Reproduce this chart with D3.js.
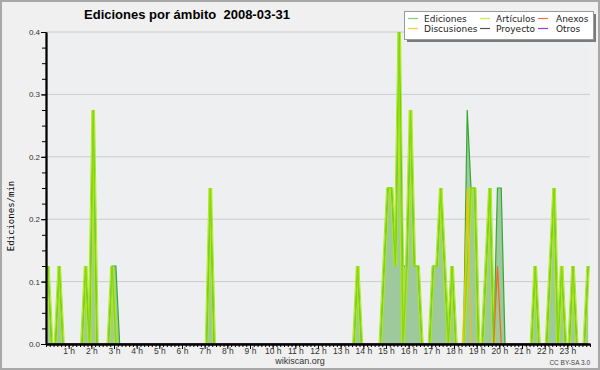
<!DOCTYPE html>
<html>
<head>
<meta charset="utf-8">
<script src="https://cdn.jsdelivr.net/npm/d3@7"></script>
<style>
  body { margin: 0; background: #f0f0f0; }
  svg { display: block; }
</style>
</head>
<body>
<svg id="chart" width="600" height="370"></svg>
<script>
// ediciones por minuto, un valor por tramo de 10 minutos (6 por hora, 12 por fila)
const ediciones = [
  0.1, 0, 0, 0.1, 0, 0, 0, 0, 0, 0, 0.1, 0,          // 0h-2h
  0.3, 0, 0, 0, 0, 0.1, 0.1, 0, 0, 0, 0, 0,          // 2h-4h
  0, 0, 0, 0, 0, 0, 0, 0, 0, 0, 0, 0,                // 4h-6h
  0, 0, 0, 0, 0, 0, 0, 0.2, 0, 0, 0, 0,              // 6h-8h
  0, 0, 0, 0, 0, 0, 0, 0, 0, 0, 0, 0,                // 8h-10h
  0, 0, 0, 0, 0, 0, 0, 0, 0, 0, 0, 0,                // 10h-12h
  0, 0, 0, 0, 0, 0, 0, 0, 0, 0, 0.1, 0,              // 12h-14h
  0, 0, 0, 0, 0, 0.1, 0.2, 0.2, 0.1, 0.4, 0.1, 0.1,  // 14h-16h
  0.3, 0.1, 0.1, 0, 0, 0, 0.1, 0.1, 0.2, 0.1, 0, 0.1,// 16h-18h
  0, 0, 0, 0.3, 0.2, 0.2, 0, 0, 0.1, 0.2, 0, 0.2,    // 18h-20h
  0.2, 0, 0, 0, 0, 0, 0, 0, 0, 0.1, 0, 0,            // 20h-22h
  0, 0.1, 0.2, 0, 0.1, 0, 0, 0.1, 0, 0, 0, 0.1       // 22h-24h
]

const articulos = [
  0.1, 0, 0, 0.1, 0, 0, 0, 0, 0, 0, 0.1, 0,
  0.3, 0, 0, 0, 0, 0.1, 0, 0, 0, 0, 0, 0,
  0, 0, 0, 0, 0, 0, 0, 0, 0, 0, 0, 0,
  0, 0, 0, 0, 0, 0, 0, 0.2, 0, 0, 0, 0,
  0, 0, 0, 0, 0, 0, 0, 0, 0, 0, 0, 0,
  0, 0, 0, 0, 0, 0, 0, 0, 0, 0, 0, 0,
  0, 0, 0, 0, 0, 0, 0, 0, 0, 0, 0.1, 0,
  0, 0, 0, 0, 0, 0.1, 0.2, 0.2, 0.1, 0.4, 0, 0.1,
  0.3, 0.1, 0.1, 0, 0, 0, 0.1, 0.1, 0.2, 0.1, 0, 0.1,
  0, 0, 0, 0.1, 0.2, 0.2, 0, 0, 0.1, 0.2, 0, 0,
  0, 0, 0, 0, 0, 0, 0, 0, 0, 0.1, 0, 0,
  0, 0.1, 0.2, 0, 0.1, 0, 0, 0.1, 0, 0, 0, 0.1
]

const discusiones = [
  0, 0, 0, 0, 0, 0, 0, 0, 0, 0, 0, 0,
  0, 0, 0, 0, 0, 0, 0, 0, 0, 0, 0, 0,
  0, 0, 0, 0, 0, 0, 0, 0, 0, 0, 0, 0,
  0, 0, 0, 0, 0, 0, 0, 0, 0, 0, 0, 0,
  0, 0, 0, 0, 0, 0, 0, 0, 0, 0, 0, 0,
  0, 0, 0, 0, 0, 0, 0, 0, 0, 0, 0, 0,
  0, 0, 0, 0, 0, 0, 0, 0, 0, 0, 0, 0,
  0, 0, 0, 0, 0, 0, 0, 0, 0, 0, 0, 0,
  0, 0, 0, 0, 0, 0, 0, 0, 0, 0, 0, 0,
  0, 0, 0, 0.2, 0, 0, 0, 0, 0, 0, 0, 0,
  0, 0, 0, 0, 0, 0, 0, 0, 0, 0, 0, 0,
  0, 0, 0, 0, 0, 0, 0, 0, 0, 0, 0, 0
]

const anexos = [
  0, 0, 0, 0, 0, 0, 0, 0, 0, 0, 0, 0,
  0, 0, 0, 0, 0, 0, 0, 0, 0, 0, 0, 0,
  0, 0, 0, 0, 0, 0, 0, 0, 0, 0, 0, 0,
  0, 0, 0, 0, 0, 0, 0, 0, 0, 0, 0, 0,
  0, 0, 0, 0, 0, 0, 0, 0, 0, 0, 0, 0,
  0, 0, 0, 0, 0, 0, 0, 0, 0, 0, 0, 0,
  0, 0, 0, 0, 0, 0, 0, 0, 0, 0, 0, 0,
  0, 0, 0, 0, 0, 0, 0, 0, 0, 0, 0, 0,
  0, 0, 0, 0, 0, 0, 0, 0, 0, 0, 0, 0,
  0, 0, 0, 0, 0, 0, 0, 0, 0, 0, 0, 0.1,
  0, 0, 0, 0, 0, 0, 0, 0, 0, 0, 0, 0,
  0, 0, 0, 0, 0, 0, 0, 0, 0, 0, 0, 0
]

// proyecto y otros: sin ediciones ese día
const proyecto = [
  0, 0, 0, 0, 0, 0, 0, 0, 0, 0, 0, 0,
  0, 0, 0, 0, 0, 0, 0, 0, 0, 0, 0, 0,
  0, 0, 0, 0, 0, 0, 0, 0, 0, 0, 0, 0,
  0, 0, 0, 0, 0, 0, 0, 0, 0, 0, 0, 0,
  0, 0, 0, 0, 0, 0, 0, 0, 0, 0, 0, 0,
  0, 0, 0, 0, 0, 0, 0, 0, 0, 0, 0, 0,
  0, 0, 0, 0, 0, 0, 0, 0, 0, 0, 0, 0,
  0, 0, 0, 0, 0, 0, 0, 0, 0, 0, 0, 0,
  0, 0, 0, 0, 0, 0, 0, 0, 0, 0, 0, 0,
  0, 0, 0, 0, 0, 0, 0, 0, 0, 0, 0, 0,
  0, 0, 0, 0, 0, 0, 0, 0, 0, 0, 0, 0,
  0, 0, 0, 0, 0, 0, 0, 0, 0, 0, 0, 0
]
const otros = proyecto.slice()

const horas = [1, 2, 3, 4, 5, 6, 7, 8, 9, 10, 11, 12, 13, 14, 15, 16, 17, 18, 19, 20, 21, 22, 23]
const yTicks = [0, 0.08, 0.16, 0.24, 0.32, 0.4]
const leyenda = ['Ediciones', 'Discusiones', 'Artículos', 'Proyecto', 'Anexos', 'Otros']
const leyendaColores = ['#80cc80', '#ffcc33', '#c4ee44', '#555555', '#ff7044', '#9933ff']


const svg = d3.select('#chart')
const sans = '"Liberation Sans", Arial, sans-serif'

const x = d3.scaleLinear().domain([0, 1440]).range([46, 590])
const y = d3.scaleLinear().domain([0, 0.4]).range([344, 32])

// cada valor se dibuja en el centro de su tramo de 10 minutos
const px = (d, i) => x(i * 10 + 5)
const line = d3.line().x(px).y(d => y(d))
const area = d3.area().x(px).y0(y(0)).y1(d => y(d))

// marco y fondo
svg.append('rect')
    .attr('x', 1).attr('y', 1).attr('width', 598).attr('height', 368)
    .attr('fill', '#f0f0f0').attr('stroke', '#a8a8a8').attr('stroke-width', 2)

svg.append('rect')
    .attr('x', x(0)).attr('y', y(0.4))
    .attr('width', x(1440) - x(0)).attr('height', y(0) - y(0.4))
    .attr('fill', '#eeeff1')

// lineas de cuadricula
svg.append('g').selectAll('line')
    .data(yTicks.filter(d => d > 0))
    .join('line')
    .attr('x1', x(0)).attr('x2', x(1440))
    .attr('y1', d => y(d)).attr('y2', d => y(d))
    .attr('stroke', '#cccccc')

// area total de ediciones
svg.append('path')
    .attr('d', area(ediciones))
    .attr('fill', '#9dc99d')

svg.append('path')
    .attr('d', line(ediciones))
    .attr('fill', 'none')
    .attr('stroke', '#36a836')
    .attr('stroke-width', 1.2)

// articulos: trazo ancho en horizontal, como en wikiscan
const bandas = [
    { dx: -1.3, color: '#b0ea14', w: 1 },
    { dx: 1.3, color: '#b0ea14', w: 1 },
    { dx: 0, color: '#84d812', w: 1.2 }
]
bandas.forEach(b => {
    svg.append('path')
        .attr('d', line(articulos))
        .attr('transform', `translate(${b.dx},0)`)
        .attr('fill', 'none')
        .attr('stroke', b.color)
        .attr('stroke-width', b.w)
})

const otrasSeries = [
    { values: discusiones, color: '#f2c200' },
    { values: anexos, color: '#f06a1a' },
    { values: proyecto, color: '#555555' },
    { values: otros, color: '#9933ff' }
]
otrasSeries.forEach(s => {
    svg.append('path')
        .attr('d', line(s.values))
        .attr('fill', 'none')
        .attr('stroke', s.color)
        .attr('stroke-width', 1.2)
})

// ejes
const yAxisMinor = d3.axisLeft(y)
    .tickValues(d3.range(0, 0.401, 0.02))
    .tickSize(4).tickSizeOuter(0).tickFormat('')
const yAxis = d3.axisLeft(y)
    .tickValues(yTicks)
    .tickSize(5).tickSizeOuter(0)
    .tickFormat(d3.format('.1f'))

svg.append('g')
    .attr('transform', `translate(${x(0)},0)`)
    .call(yAxisMinor)
svg.append('g')
    .attr('transform', `translate(${x(0)},0)`)
    .call(yAxis)
    .call(g => g.selectAll('text')
        .attr('font-family', sans).attr('font-size', 8).attr('fill', '#333').attr('x', -6))

const xAxisMinor = d3.axisBottom(x)
    .tickValues(d3.range(0, 1441, 10))
    .tickSize(3).tickSizeOuter(0).tickFormat('')
const xAxis = d3.axisBottom(x)
    .tickValues(horas.map(h => h * 60))
    .tickSize(5).tickSizeOuter(0)
    .tickFormat(d => `${d / 60} h`)

svg.append('g')
    .attr('transform', `translate(0,${y(0)})`)
    .call(xAxisMinor)
svg.append('g')
    .attr('transform', `translate(0,${y(0)})`)
    .call(xAxis)
    .call(g => g.selectAll('text')
        .attr('font-family', sans).attr('font-size', 8.5).attr('fill', '#333').attr('y', 4))

svg.selectAll('.domain').attr('stroke', '#000').attr('stroke-width', 1.8)
svg.selectAll('.tick line').attr('stroke', '#000')

// titulo y textos
svg.append('text')
    .attr('x', 187).attr('y', 19)
    .attr('text-anchor', 'middle')
    .attr('font-family', sans).attr('font-weight', 'bold').attr('font-size', 13)
    .style('white-space', 'pre')
    .text('Ediciones por ámbito  2008-03-31')

svg.append('text')
    .attr('transform', 'translate(14,216) rotate(-90)')
    .attr('text-anchor', 'middle')
    .attr('font-family', '"DejaVu Sans Mono", monospace').attr('font-size', 9)
    .text('Ediciones/min')

svg.append('text')
    .attr('x', 300).attr('y', 364)
    .attr('text-anchor', 'middle')
    .attr('font-family', sans).attr('font-size', 9).attr('fill', '#333')
    .text('wikiscan.org')

svg.append('text')
    .attr('x', 590).attr('y', 365)
    .attr('text-anchor', 'end')
    .attr('font-family', sans).attr('font-size', 6.5).attr('fill', '#444')
    .text('CC BY-SA 3.0')

// leyenda
const legend = svg.append('g')
legend.append('rect')
    .attr('x', 407).attr('y', 14).attr('width', 189).attr('height', 28)
    .attr('fill', '#7a7a7a')
legend.append('rect')
    .attr('x', 404.5).attr('y', 11.5).attr('width', 189).attr('height', 28)
    .attr('fill', '#fff').attr('stroke', '#999')

const colX = [408, 480, 538]
const rowY = [18.5, 28.5]
const items = legend.selectAll('g.item')
    .data(leyenda)
    .join('g')
    .attr('class', 'item')
    .attr('transform', (d, i) => `translate(${colX[Math.floor(i / 2)]},${rowY[i % 2]})`)

items.append('line')
    .attr('x1', 0).attr('x2', 10)
    .attr('stroke', (d, i) => leyendaColores[i])
    .attr('stroke-width', 1.2)

items.append('text')
    .attr('x', (d, i) => i < 4 ? 16 : 18).attr('y', 3.5)
    .attr('font-family', '"DejaVu Sans", sans-serif').attr('font-size', 9)
    .attr('fill', '#222')
    .text(d => d)
</script>
